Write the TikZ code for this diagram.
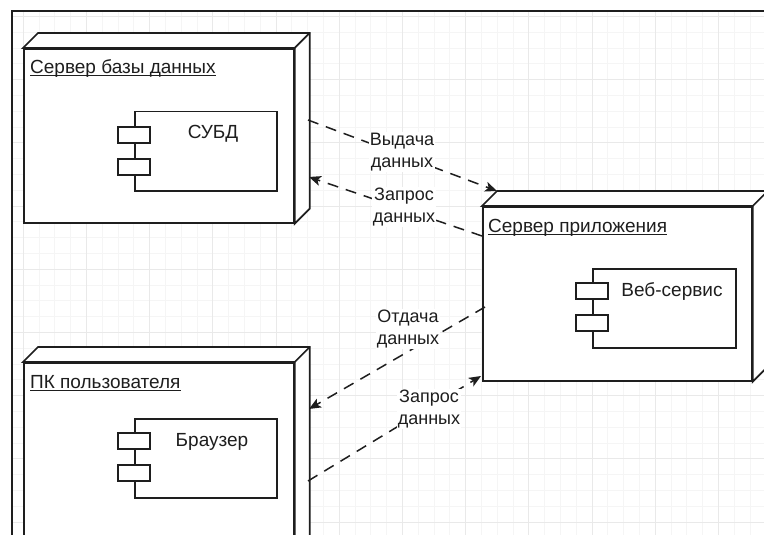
\documentclass[tikz,border=0pt]{standalone}
\usepackage{fontspec}
\setmainfont{Liberation Sans}
\usetikzlibrary{arrows.meta,calc}
\definecolor{ink}{HTML}{1E1E1E}
\definecolor{gminor}{HTML}{F5F5F5}
\definecolor{gmajor}{HTML}{E9E9E9}
\begin{document}
\begin{tikzpicture}[x=1pt,y=-1pt,
  txt/.style={font=\fontsize{19}{22}\selectfont, text=ink, inner sep=0pt},
  face/.style={draw=ink, line width=1.7pt, fill=white, anchor=north west, inner sep=0pt},
  comp/.style={draw=ink, line width=1.5pt, fill=white, anchor=north west, inner sep=0pt, minimum width=142pt, minimum height=79pt},
  port/.style={draw=ink, line width=1.5pt, fill=white, inner sep=0pt, minimum width=32pt, minimum height=16pt},
  conn/.style={draw=ink, line width=1.5pt, dash pattern=on 11pt off 8pt, -{Stealth[length=12pt,width=10pt,inset=3pt]}},
  lbl/.style={font=\fontsize{18}{21.5}\selectfont, text=ink, fill=white, align=center, inner sep=1pt},
  gline/.style={line width=0.8pt}
]
\clip (0,0) rectangle (764,535);
\fill[white] (0,0) rectangle (764,535);
% grid
\begin{scope}
  \clip (12,11) rectangle (764,535);
  \foreach \i in {-1,...,48} {
    \draw[gminor, gline] ({23.2+15.8*\i},0) -- ({23.2+15.8*\i},540);
  }
  \foreach \i in {-1,...,34} {
    \draw[gminor, gline] (0,{16.4+15.8*\i}) -- (770,{16.4+15.8*\i});
  }
  \foreach \i in {0,...,12} {
    \draw[gmajor, gline] ({23.2+63.2*\i},0) -- ({23.2+63.2*\i},540);
  }
  \foreach \i in {0,...,9} {
    \draw[gmajor, gline] (0,{16.4+63.2*\i}) -- (770,{16.4+63.2*\i});
  }
\end{scope}
% frame
\draw[ink, line width=2pt] (12,540) -- (12,11) -- (770,11);

% 3D box: database server
\node[face, minimum width=270pt, minimum height=174pt] (db) at (23,48) {};
\draw[ink, line width=1.7pt, fill=white, line join=miter]
  (db.north west) -- ++(15,-15) -- ($(db.north east)+(15,-15)$) -- ($(db.south east)+(15,-15)$)
  -- (db.south east) -- (db.north east) -- cycle;
\draw[ink, line width=1.7pt] (db.north east) -- ++(15,-15);
\node[txt, anchor=base west] (dbt) at (30,74) {Сервер базы данных};
\draw[ink, line width=1pt] ([yshift=-2pt]dbt.base west) -- ([yshift=-2pt]dbt.base east);
\node[comp] (dbc) at (134,111) {};
\node[port] (dbp1) at ($(dbc.north west)+(0,24)$) {};
\node[port] (dbp2) at ($(dbc.north west)+(0,56)$) {};
\node[txt, anchor=base] (dbct) at ($(dbc.north west)+(79,28)$) {СУБД};

% 3D box: application server
\node[face, minimum width=269pt, minimum height=174pt] (app) at (482,206) {};
\draw[ink, line width=1.7pt, fill=white, line join=miter]
  (app.north west) -- ++(15,-15) -- ($(app.north east)+(15,-15)$) -- ($(app.south east)+(15,-15)$)
  -- (app.south east) -- (app.north east) -- cycle;
\draw[ink, line width=1.7pt] (app.north east) -- ++(15,-15);
\node[txt, anchor=base west] (appt) at (488,232) {Сервер приложения};
\draw[ink, line width=1pt] ([yshift=-2pt]appt.base west) -- ([yshift=-2pt]appt.base east);
\node[comp, minimum width=143pt] (appc) at (592,268) {};
\node[port] (appp1) at ($(appc.north west)+(0,23)$) {};
\node[port] (appp2) at ($(appc.north west)+(0,55)$) {};
\node[txt, anchor=base] (appct) at ($(appc.north west)+(80,28)$) {Веб-сервис};

% 3D box: user PC
\node[face, minimum width=270pt, minimum height=200pt] (pc) at (23,362) {};
\draw[ink, line width=1.7pt, fill=white, line join=miter]
  (pc.north west) -- ++(15,-15) -- ($(pc.north east)+(15,-15)$) -- ($(pc.south east)+(15,-15)$)
  -- (pc.south east) -- (pc.north east) -- cycle;
\draw[ink, line width=1.7pt] (pc.north east) -- ++(15,-15);
\node[txt, anchor=base west] (pct) at (30,388) {ПК пользователя};
\draw[ink, line width=1pt] ([yshift=-2pt]pct.base west) -- ([yshift=-2pt]pct.base east);
\node[comp] (pcc) at (134,418) {};
\node[port] (pcp1) at ($(pcc.north west)+(0,23)$) {};
\node[port] (pcp2) at ($(pcc.north west)+(0,55)$) {};
\node[txt, anchor=base] (pcct) at ($(pcc.north west)+(78,28)$) {Браузер};

% connector end points
\coordinate (e1s) at (308,120);
\coordinate (e1e) at (497,191);
\coordinate (e2s) at (482,236);
\coordinate (e2e) at (309,177);
\coordinate (e3s) at (485,307);
\coordinate (e3e) at (309,409);
\coordinate (e4s) at (308,481);
\coordinate (e4e) at (481,376);

\draw[conn] (e1s) -- (e1e);
\draw[conn] (e2s) -- (e2e);
\draw[conn] (e3s) -- (e3e);
\draw[conn] (e4s) -- (e4e);

\node[lbl] (l1) at (402,152) {Выдача\\данных};
\node[lbl] (l2) at (404,207) {Запрос\\данных};
\node[lbl] (l3) at (408,329) {Отдача\\данных};
\node[lbl] (l4) at (429,409) {Запрос\\данных};
\end{tikzpicture}
\end{document}
